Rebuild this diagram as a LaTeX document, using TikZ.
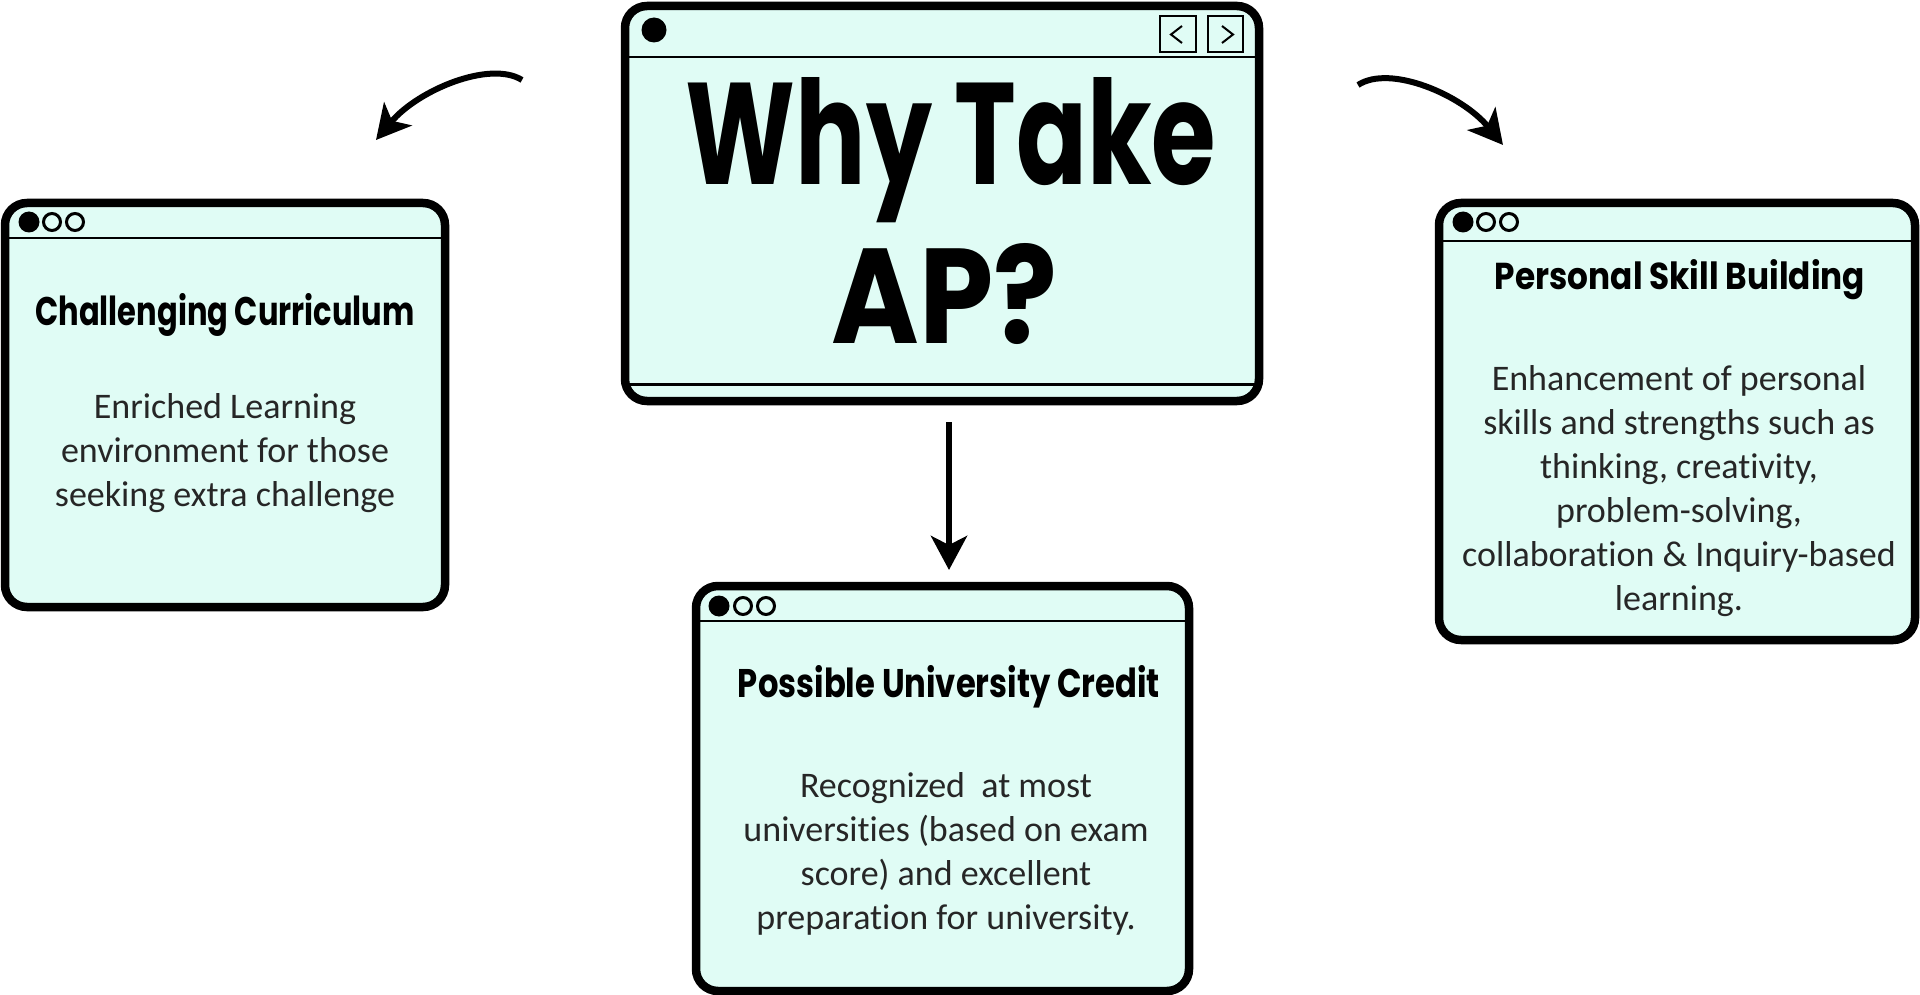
\documentclass[tikz,border=0pt]{standalone}
\usepackage{fontspec}
\usepackage{graphicx}
\usetikzlibrary{arrows.meta}
\newfontfamily\headfont{Poppins}
\newfontfamily\bodyfont{Carlito}[Ligatures=NoCommon]
\definecolor{mint}{HTML}{E0FCF5}
\definecolor{ink}{HTML}{262626}
\tikzset{
  win/.style={draw=black, fill=mint, line width=8.5pt, rounded corners=22pt, inner sep=0pt, outer sep=0pt},
  barline/.style={line width=2.5pt},
  opendot/.style={draw=black, fill=mint, line width=3pt},
  body/.style={font=\bodyfont\fontsize{36}{44}\selectfont, text=ink, inner sep=0pt, anchor=base},
  heading/.style={inner sep=0pt, anchor=base},
  arrowline/.style={line width=6pt, -{Stealth[length=34pt, width=36pt, inset=9pt]}},
}
\newcommand{\bodylines}[1]{\begin{tabular}[t]{@{}c@{}}#1\end{tabular}}
\begin{document}
\begin{tikzpicture}[x=1pt,y=-1pt]
\useasboundingbox (0,0) rectangle (1920,995);

% main window
\node[win, minimum width=634pt, minimum height=395pt] (main) at (942,203.5) {};
\draw[barline] (main.west |- 0,57) -- (main.east |- 0,57);
\draw[line width=3pt] (main.west |- 0,384) -- (main.east |- 0,384);
\fill (654,30) circle[radius=12.5pt];
\draw[line width=2.5pt] (1160,16) rectangle (1196,52);
\draw[line width=2.5pt] (1208,16) rectangle (1243,52);
\draw[line width=2pt] (1182,26) -- (1171,34.5) -- (1182,43);
\draw[line width=2pt] (1222,26) -- (1233,34.5) -- (1222,43);
\node[heading] (t1) at (951,185) {\resizebox{530pt}{107pt}{\headfont\bfseries Why Take}};
\node[heading] (t2) at (945,343) {\resizebox{226pt}{100pt}{\headfont\bfseries AP?}};

% left window
\node[win, minimum width=440pt, minimum height=404pt] (left) at (225,405) {};
\draw[barline] (left.west |- 0,238) -- (left.east |- 0,238);
\fill ([shift={(24,19)}]left.north west) circle[radius=10.5pt];
\draw[opendot] ([shift={(47,19)}]left.north west) circle[radius=8.5pt];
\draw[opendot] ([shift={(70,19)}]left.north west) circle[radius=8.5pt];
\node[heading] (lt) at (225,325) {\resizebox{379pt}{32pt}{\headfont\bfseries Challenging Curriculum}};
\node[body] (lb) at (225,418) {\bodylines{Enriched Learning\\environment for those\\seeking extra challenge}};

% right window
\node[win, minimum width=476pt, minimum height=437pt] (right) at (1677,421.5) {};
\draw[barline] (right.west |- 0,241) -- (right.east |- 0,241);
\fill ([shift={(24,19)}]right.north west) circle[radius=10.5pt];
\draw[opendot] ([shift={(47,19)}]right.north west) circle[radius=8.5pt];
\draw[opendot] ([shift={(70,19)}]right.north west) circle[radius=8.5pt];
\node[heading] (rt) at (1680,290) {\resizebox{370pt}{30pt}{\headfont\bfseries Personal Skill Building}};
\node[body] (rb) at (1679,390) {\bodylines{Enhancement of personal\\skills and strengths such as\\thinking, creativity,\\problem-solving,\\collaboration \& Inquiry-based\\learning.}};

% bottom window
\node[win, minimum width=493pt, minimum height=405pt] (bottom) at (942.5,788.5) {};
\draw[barline] (bottom.west |- 0,621) -- (bottom.east |- 0,621);
\fill ([shift={(23,20)}]bottom.north west) circle[radius=10.5pt];
\draw[opendot] ([shift={(47,20)}]bottom.north west) circle[radius=8.5pt];
\draw[opendot] ([shift={(70,20)}]bottom.north west) circle[radius=8.5pt];
\node[heading] (bt) at (949,697) {\resizebox{422pt}{32pt}{\headfont\bfseries Possible University Credit}};
\node[body] (bb) at (946,797) {\bodylines{Recognized~ at most\\universities (based on exam\\score) and excellent\\preparation for university.}};

% connectors
\coordinate (la0) at (522,80);
\coordinate (la1) at (376,140);
\draw[arrowline] (la0) .. controls (490,60) and (418,90) .. (la1);
\coordinate (ra0) at (1358,85);
\coordinate (ra1) at (1503,145);
\draw[arrowline] (ra0) .. controls (1390,64) and (1462,95) .. (ra1);
\coordinate (da0) at (949,422);
\coordinate (da1) at (949,570);
\draw[arrowline] (da0) -- (da1);
\end{tikzpicture}
\end{document}
